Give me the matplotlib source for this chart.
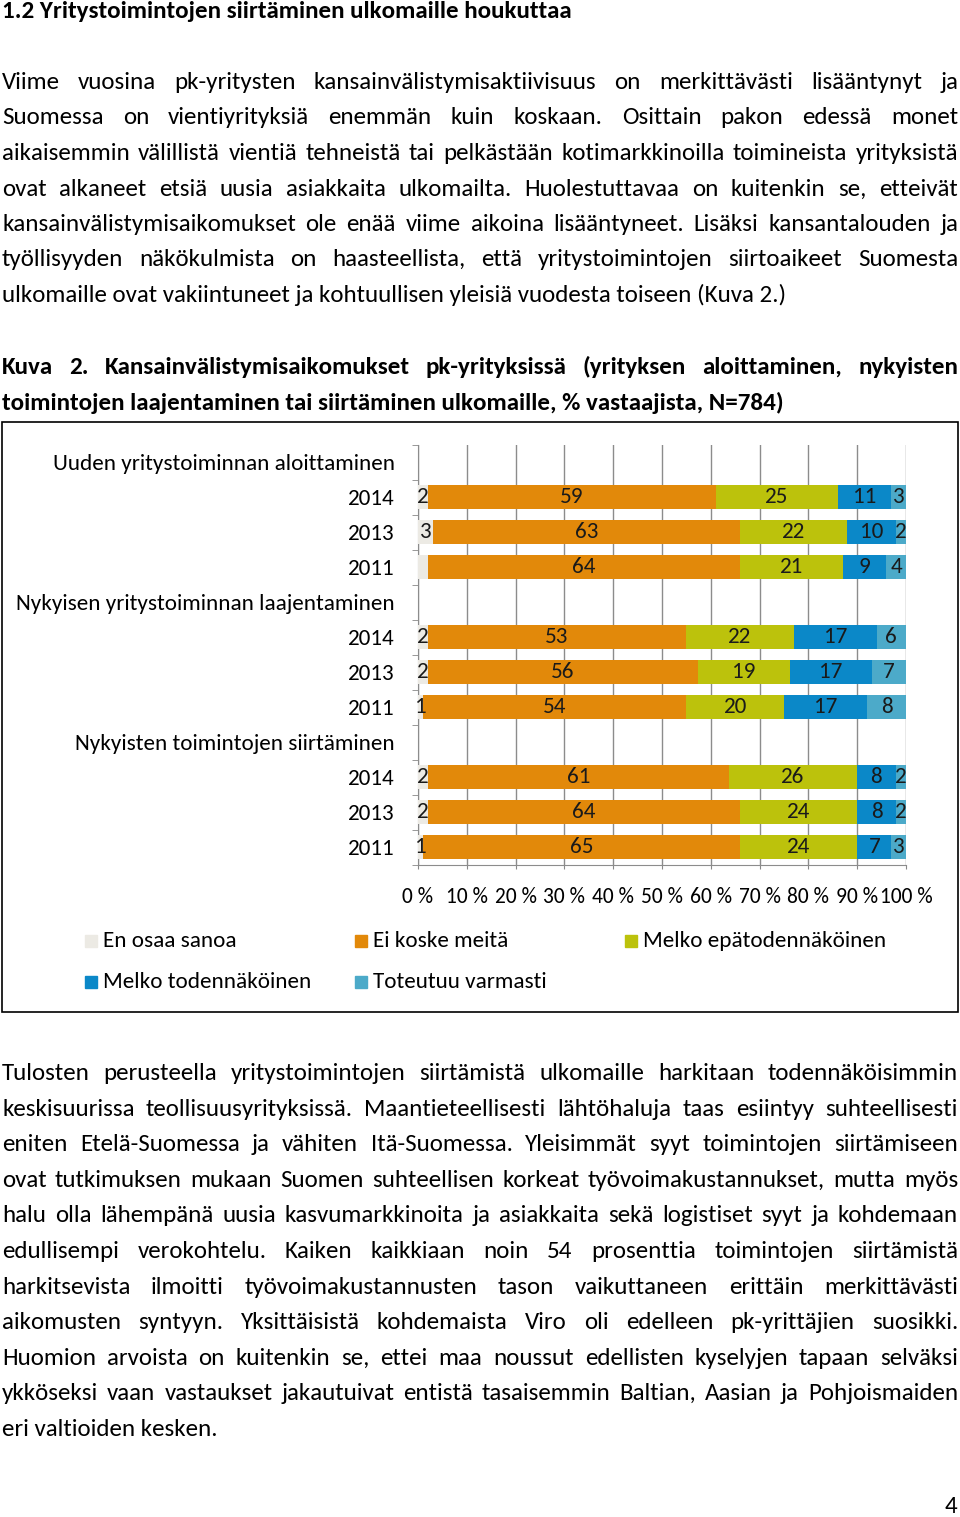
import numpy as np
import matplotlib
matplotlib.use("Agg")
import matplotlib.pyplot as plt
from matplotlib.patches import Rectangle

W, H = 960, 1517
FONT = "Carlito"
BODY = 18
CHART = 16.7
TICKS = 15.5

# data (% of respondents), 100 % stacked
groups = ["Uuden yritystoiminnan aloittaminen",
          "Nykyisen yritystoiminnan laajentaminen",
          "Nykyisten toimintojen siirtäminen"]
years = ["2014", "2013", "2011"]
series = ["En osaa sanoa", "Ei koske meitä", "Melko epätodennäköinen",
          "Melko todennäköinen", "Toteutuu varmasti"]
en_osaa = [2, 3, 2, 2, 2, 1, 2, 2, 1]
ei_koske = [59, 63, 64, 53, 56, 54, 61, 64, 65]
melko_epa = [25, 22, 21, 22, 19, 20, 26, 24, 24]
melko_tod = [11, 10, 9, 17, 17, 17, 8, 8, 7]
toteutuu = [3, 2, 4, 6, 7, 8, 2, 2, 3]
hidden_labels = [(0, 2)]  # (series, row) without label in the original
colors = ["#ECEAE4", "#E2890A", "#BCC20C", "#0B88C8", "#4CAAC9"]

para1 = [
    "Viime vuosina pk-yritysten kansainvälistymisaktiivisuus on merkittävästi lisääntynyt ja",
    "Suomessa on vientiyrityksiä enemmän kuin koskaan. Osittain pakon edessä monet",
    "aikaisemmin välillistä vientiä tehneistä tai pelkästään kotimarkkinoilla toimineista yrityksistä",
    "ovat alkaneet etsiä uusia asiakkaita ulkomailta. Huolestuttavaa on kuitenkin se, etteivät",
    "kansainvälistymisaikomukset ole enää viime aikoina lisääntyneet. Lisäksi kansantalouden ja",
    "työllisyyden näkökulmista on haasteellista, että yritystoimintojen siirtoaikeet Suomesta",
    "ulkomaille ovat vakiintuneet ja kohtuullisen yleisiä vuodesta toiseen (Kuva 2.)",
]
caption = [
    "Kuva 2. Kansainvälistymisaikomukset pk-yrityksissä (yrityksen aloittaminen, nykyisten",
    "toimintojen laajentaminen tai siirtäminen ulkomaille, % vastaajista, N=784)",
]
para2 = [
    "Tulosten perusteella yritystoimintojen siirtämistä ulkomaille harkitaan todennäköisimmin",
    "keskisuurissa teollisuusyrityksissä. Maantieteellisesti lähtöhaluja taas esiintyy suhteellisesti",
    "eniten Etelä-Suomessa ja vähiten Itä-Suomessa. Yleisimmät syyt toimintojen siirtämiseen",
    "ovat tutkimuksen mukaan Suomen suhteellisen korkeat työvoimakustannukset, mutta myös",
    "halu olla lähempänä uusia kasvumarkkinoita ja asiakkaita sekä logistiset syyt ja kohdemaan",
    "edullisempi verokohtelu. Kaiken kaikkiaan noin 54 prosenttia toimintojen siirtämistä",
    "harkitsevista ilmoitti työvoimakustannusten tason vaikuttaneen erittäin merkittävästi",
    "aikomusten syntyyn. Yksittäisistä kohdemaista Viro oli edelleen pk-yrittäjien suosikki.",
    "Huomion arvoista on kuitenkin se, ettei maa noussut edellisten kyselyjen tapaan selväksi",
    "ykköseksi vaan vastaukset jakautuivat entistä tasaisemmin Baltian, Aasian ja Pohjoismaiden",
    "eri valtioiden kesken.",
]

plt.rcParams["font.family"] = FONT
fig = plt.figure(figsize=(W / 100, H / 100), dpi=100)
renderer = fig.canvas.get_renderer()


def fx(x):
    return x / W


def fy(y):
    return 1 - y / H


def justified(lines, y0, step, weight="normal", left=2, right=958):
    # y0 is the visual middle of the first line; draw on a whole-pixel baseline
    for i, line in enumerate(lines):
        y = fy(round(y0 + i * step + 7))
        last = i == len(lines) - 1
        if last:
            fig.text(fx(left), y, line, fontsize=BODY, weight=weight, va="baseline")
            continue
        words = line.split(" ")
        texts = [fig.text(0, y, w, fontsize=BODY, weight=weight, va="baseline")
                 for w in words]
        widths = [t.get_window_extent(renderer).width for t in texts]
        gap = (right - left - sum(widths)) / (len(words) - 1)
        x = left
        for t, wd in zip(texts, widths):
            t.set_x(fx(x))
            x += wd + gap


fig.text(fx(2), fy(18), "1.2 Yritystoimintojen siirtäminen ulkomaille houkuttaa",
         fontsize=BODY, weight="bold", va="baseline")
justified(para1, 82, 35.5)
justified(caption, 367, 36, weight="bold")
justified(para2, 1073, 35.6)
fig.text(fx(957), fy(1513), "4", fontsize=BODY, ha="right", va="baseline")

# chart frame
fig.patches.append(Rectangle((fx(2), fy(1012)), fx(956), (1012 - 422) / H,
                             transform=fig.transFigure, fill=False,
                             edgecolor="black", linewidth=1.2))

ax = fig.add_axes([fx(418), fy(864.5), fx(906 - 418), (864.5 - 444.5) / H])

row_labels, data_rows = [], []
for g in groups:
    row_labels.append(g)
    for yr in years:
        data_rows.append(len(row_labels))
        row_labels.append(yr)
data_rows = np.array(data_rows)

vals = np.array([en_osaa, ei_koske, melko_epa, melko_tod, toteutuu], dtype=float)
pct = vals / vals.sum(axis=0) * 100
left = np.zeros(len(data_rows))
for s, name in enumerate(series):
    bars = ax.barh(data_rows, pct[s], left=left, height=0.66, color=colors[s],
                   label=name, zorder=3)
    labels = [str(int(v)) for v in vals[s]]
    for (hs, hr) in hidden_labels:
        if hs == s:
            labels[hr] = ""
    ax.bar_label(bars, labels=labels, label_type="center", fontsize=CHART,
                 color="#1a1a1a", zorder=4)
    left += pct[s]

ax.set_xlim(0, 100)
ax.set_ylim(len(row_labels) - 0.5, -0.5)
ax.set_xticks(np.arange(0, 101, 10))
ax.set_xticklabels([f"{v} %" for v in range(0, 101, 10)])
ax.set_yticks(np.arange(len(row_labels)))
ax.set_yticklabels(row_labels)
ax.set_yticks(np.arange(len(row_labels) + 1) - 0.5, minor=True)
ax.tick_params(axis="y", which="major", length=0, pad=16.5, labelsize=CHART)
ax.tick_params(axis="y", which="minor", length=4, color="#888888")
ax.tick_params(axis="x", length=3, color="#888888", pad=13, labelsize=TICKS)
ax.grid(axis="x", color="#8c8c8c", linewidth=1, zorder=0)
for sp in ["top", "right"]:
    ax.spines[sp].set_visible(False)
for sp in ["left", "bottom"]:
    ax.spines[sp].set_color("#8c8c8c")

# legend
leg_pos = [(85, 941), (355, 941), (625, 941), (85, 982), (355, 982)]
for (lx, ly), name, c in zip(leg_pos, series, colors):
    fig.patches.append(Rectangle((fx(lx), fy(ly + 6)), 12 / W, 12 / H,
                                 transform=fig.transFigure, color=c))
    fig.text(fx(lx + 18), fy(ly), name, fontsize=CHART, va="center")

fig.savefig("out.png", dpi=100)
